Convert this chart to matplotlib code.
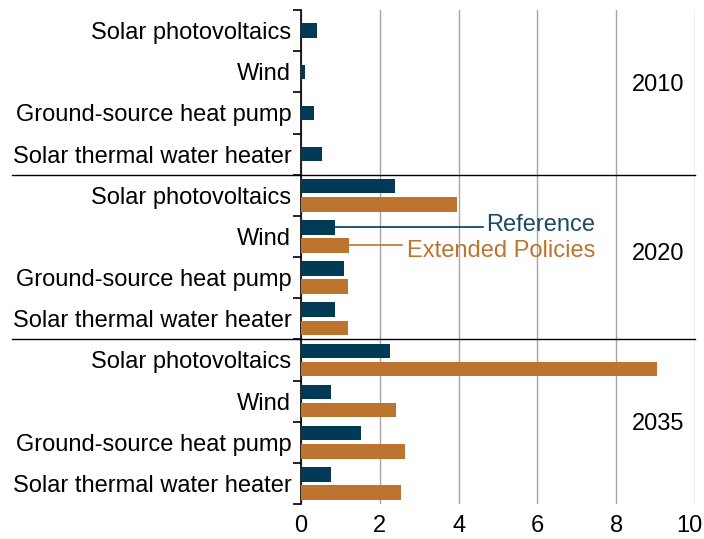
import matplotlib.pyplot as plt
import matplotlib.transforms as mtransforms
import numpy as np

plt.rcParams['font.family'] = ['Liberation Sans', 'DejaVu Sans']

technologies = ['Solar photovoltaics', 'Wind', 'Ground-source heat pump',
                'Solar thermal water heater']
years = ['2010', '2020', '2035']
reference = {
    '2010': [0.41, 0.10, 0.33, 0.53],
    '2020': [2.39, 0.86, 1.09, 0.86],
    '2035': [2.26, 0.75, 1.52, 0.75],
}
extended = {
    '2020': [3.95, 1.22, 1.19, 1.19],
    '2035': [9.03, 2.41, 2.64, 2.53],
}
xticks = [0, 2, 4, 6, 8, 10]

blue = '#003A54'
orange = '#BD742E'
fs = 17

fig = plt.figure(figsize=(7.04, 5.39), dpi=100)
ax = fig.add_axes([301 / 704, 1 - 504 / 539, 394 / 704, 494 / 539])

n = len(technologies)
bh = 0.35
off = 0.22
year_dy = [-0.18, -0.08, 0.05]
labels = []
centers = []
for g, yr in enumerate(years):
    for i, tech in enumerate(technologies):
        c = g * n + i + 0.5
        centers.append(c)
        labels.append(tech)
        if yr in extended:
            ax.barh(c - off, reference[yr][i], height=bh, color=blue, zorder=3)
            ax.barh(c + off, extended[yr][i], height=bh, color=orange, zorder=3)
        else:
            ax.barh(c, reference[yr][i], height=bh, color=blue, zorder=3)
    # year label on the right of each block
    ax.text(9.06, g * n + n / 2 + year_dy[g], yr, fontsize=fs,
            ha='center', va='center')
    if g > 0:
        ax.plot([-0.733, 1.0], [g * n, g * n], transform=ax.get_yaxis_transform(),
                color='black', lw=1.0, clip_on=False, zorder=4)

ax.set_ylim(len(centers), 0)
ax.set_xlim(0, 10)
ax.set_yticks(np.arange(0, len(centers) + 1))
ax.set_yticklabels([])
ax.set_yticks(centers, minor=True)
ax.set_yticklabels(labels, minor=True, fontsize=fs)
ax.tick_params(axis='y', which='major', length=6, width=1.2, color='black')
ax.tick_params(axis='y', which='minor', length=0, pad=7)
ax.set_xticks(xticks)
ax.set_xticklabels([str(v) for v in xticks], fontsize=fs)
ax.tick_params(axis='x', length=0, pad=8)
# nudge the last x label so it stays inside the figure
last = ax.get_xticklabels()[-1]
last.set_transform(last.get_transform() +
                   mtransforms.ScaledTranslation(-6 / 100, 0, fig.dpi_scale_trans))

ax.grid(axis='x', color='#A6A6A6', lw=1.0, zorder=0)
for s in ['top', 'right', 'bottom']:
    ax.spines[s].set_visible(False)
ax.spines['left'].set_linewidth(1.2)

# inline legend pointing at the 2020 wind bars
wy = n + 1 + 0.5
ref_y = wy - off
ext_y = wy + off
ax.plot([reference['2020'][1], 4.62], [ref_y, ref_y], color=blue, lw=1.2, zorder=4)
ax.text(7.46, ref_y - 0.06, 'Reference', color='#1A4A66', fontsize=fs,
        ha='right', va='center')
ax.plot([extended['2020'][1], 2.56], [ext_y, ext_y], color=orange, lw=1.2, zorder=4)
ax.text(7.46, ext_y + 0.13, 'Extended Policies', color=orange, fontsize=fs,
        ha='right', va='center')

fig.savefig('out.png', dpi=100)
